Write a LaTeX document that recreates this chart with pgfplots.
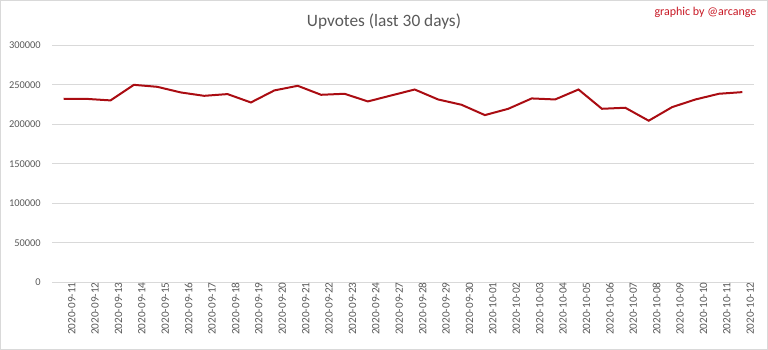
\documentclass[border=0pt]{standalone}
\usepackage{pgfplots}
\pgfplotsset{compat=1.18}
\usepackage{fontspec}
\setmainfont{Carlito}
\definecolor{gridgray}{RGB}{217,217,217}
\definecolor{txtgray}{RGB}{89,89,89}
\definecolor{linered}{RGB}{170,12,18}
\definecolor{markred}{RGB}{200,24,36}
\begin{document}
\begin{tikzpicture}
\useasboundingbox (0,0) rectangle (576pt,262.5pt);
\draw[gridgray, line width=0.75pt] (0.375pt,0.375pt) rectangle (575.625pt,262.125pt);
\node[anchor=base, inner sep=0pt, text=txtgray, font=\fontsize{13}{15}\selectfont] at (288pt,242.5pt) {Upvotes (last 30 days)};
\node[anchor=base east, inner sep=0pt, text=markred, font=\fontsize{9}{11}\selectfont] at (567.5pt,250.5pt) {graphic by @arcange};
\begin{axis}[
  at={(39pt,50.8pt)}, anchor=south west,
  scale only axis, width=526.5pt, height=177.75pt,
  xmin=-0.5, xmax=29.5, ymin=0, ymax=300000,
  ytick={0,50000,100000,150000,200000,250000,300000},
  scaled y ticks=false,
  xtick={0,...,29},
  xticklabels={2020-09-11,2020-09-12,2020-09-13,2020-09-14,2020-09-15,2020-09-16,2020-09-17,2020-09-18,2020-09-19,2020-09-20,2020-09-21,2020-09-22,2020-09-23,2020-09-24,2020-09-27,2020-09-28,2020-09-29,2020-09-30,2020-10-01,2020-10-02,2020-10-03,2020-10-04,2020-10-05,2020-10-06,2020-10-07,2020-10-08,2020-10-09,2020-10-10,2020-10-11,2020-10-12},
  axis x line*=bottom, axis y line*=left,
  x axis line style={gridgray, line width=0.75pt, -},
  y axis line style={draw=none},
  major tick length=0pt,
  ymajorgrids, grid style={gridgray, line width=0.75pt},
  yticklabel style={inner sep=0pt, xshift=-8.25pt, text=txtgray, font=\fontsize{7.8}{9}\selectfont, /pgf/number format/.cd, fixed, 1000 sep={}, assume math mode=true},
  xticklabel style={rotate=90, anchor=east, inner sep=0pt, yshift=-6pt, text=txtgray, font=\fontsize{8.4}{10}\selectfont},
]
\addplot[linered, line width=1.5pt, mark=none] coordinates {
(0,232300) (1,232100) (2,230200) (3,249900) (4,247400) (5,240300) (6,236000) (7,238200) (8,227600) (9,242800)
(10,248700) (11,237300) (12,238600) (13,228900) (14,236500) (15,244000) (16,231400) (17,224700) (18,211600) (19,219600)
(20,232700) (21,231400) (22,244000) (23,219600) (24,220900) (25,204500) (26,221700) (27,231400) (28,238600) (29,240700)
};
\end{axis}
\end{tikzpicture}
\end{document}
